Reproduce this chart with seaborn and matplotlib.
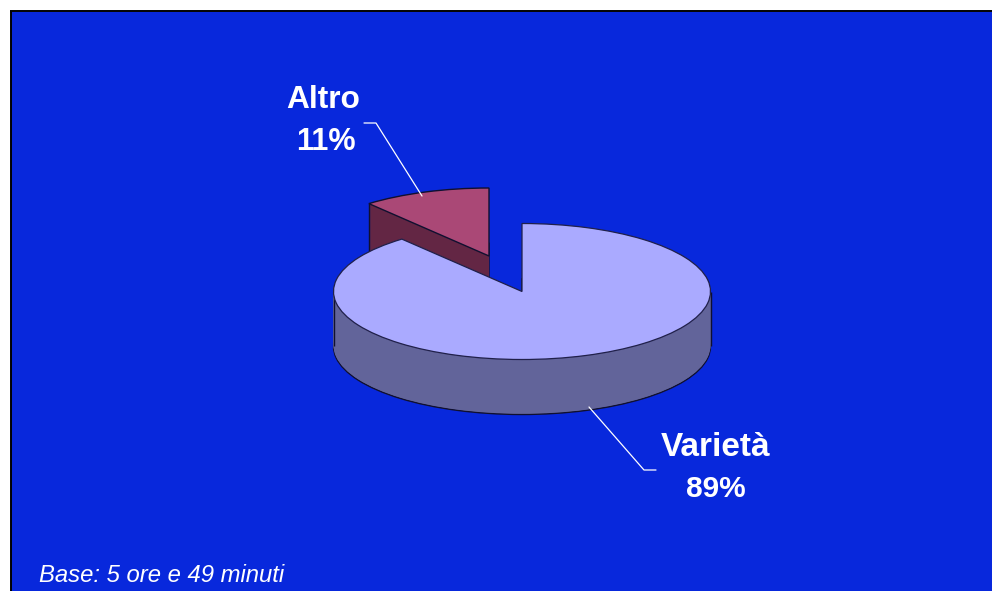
import matplotlib
matplotlib.use("Agg")
import matplotlib.pyplot as plt
from matplotlib.patches import Rectangle
import numpy as np
import seaborn as sns

categories = ["Varietà", "Altro"]
shares = [89, 11]
top_colors = ["#AAAAFF", "#AA4876"]
wall_colors = ["#62649A", "#632644"]
BLUE = "#0828DC"
note = "Base: 5 ore e 49 minuti"

sns.set_theme(style="white")
FONT = ["Liberation Sans", "DejaVu Sans"]

W, H = 992, 591
RX, RY, DEPTH = 188.5, 68.0, 55
K = RX / RY
fig = plt.figure(figsize=(W / 100, H / 100), dpi=100, facecolor="white")
ax = fig.add_axes([0, 0, 1, 1])


def Y(py):
    return (H - py) * K


def wedge(value, start, center, color, edge="none", lw=0.0, z=1.0):
    ax.pie([value, 100 - value], startangle=start, counterclock=False,
           center=center, radius=RX,
           colors=[color, (0, 0, 0, 0)],
           wedgeprops=dict(edgecolor=edge, linewidth=lw),
           frame=True)
    hidden = ax.patches[-1]
    hidden.set_visible(False)
    ax.patches[-2].set_zorder(z)


ax.add_patch(Rectangle((11, Y(H)), W, (H - 12) * K, facecolor=BLUE, edgecolor="none", zorder=0))
ax.plot([10.5, 10.5], [Y(H), Y(11.5)], color="black", lw=1.4, zorder=0.5, solid_capstyle="butt")
ax.plot([10, W], [Y(11.5), Y(11.5)], color="black", lw=1.4, zorder=0.5, solid_capstyle="butt")

var_val, alt_val = shares
alt_c = (489.0, 256.0)
var_c = (522.0, 291.5)
alt_start = 90 + 360 * alt_val / 100

z = 1.0
for d in range(DEPTH, -1, -1):
    z += 0.001
    is_top = d == 0
    wedge(alt_val, alt_start, (alt_c[0], Y(alt_c[1] + d)),
          top_colors[1] if is_top else wall_colors[1],
          edge="#101030" if d in (0, DEPTH) else "none", lw=1.0 if d in (0, DEPTH) else 0, z=z)
th = np.deg2rad(alt_start)
ax.plot([alt_c[0] + RX * np.cos(th)] * 2,
        [Y(alt_c[1]) + RX * np.sin(th), Y(alt_c[1] + DEPTH) + RX * np.sin(th)],
        color="#101030", lw=1.0, zorder=z + 0.001)
z += 0.01
for d in range(DEPTH, -1, -1):
    z += 0.001
    is_top = d == 0
    wedge(var_val, 90, (var_c[0], Y(var_c[1] + d)),
          top_colors[0] if is_top else wall_colors[0],
          edge="#101030" if d == DEPTH else "none", lw=1.0 if d == DEPTH else 0, z=z)
    if d == 1:
        for sx in (-RX, RX):
            ax.plot([var_c[0] + sx] * 2, [Y(var_c[1]), Y(var_c[1] + DEPTH - 1)],
                    color="#101030", lw=1.0, zorder=z + 0.0005, solid_capstyle="butt")
z += 0.001
wedge(var_val, 90, (var_c[0], Y(var_c[1])), (0, 0, 0, 0), edge="#20204A", lw=0.9, z=z)

z += 1
ax.plot([364, 376, 422], [Y(123), Y(123), Y(196)], color="white", lw=0.9, zorder=z)
ax.plot([589, 644, 656], [Y(407), Y(470), Y(470)], color="white", lw=0.9, zorder=z)

bold = dict(color="white", fontweight="bold", family=FONT,
            ha="center", va="center", zorder=z)
ax.text(323.5, Y(100), categories[1], fontsize=22.8, **bold)
ax.text(325.5, Y(142), f"{alt_val}%", fontsize=22, **bold)
ax.text(715.5, Y(447), categories[0], fontsize=24, **bold)
ax.text(716, Y(489), f"{var_val}%", fontsize=21.5, **bold)
ax.text(39, Y(575.5), note, color="white", fontsize=17.2, style="italic", family=FONT,
        ha="left", va="center", zorder=z)

ax.set_aspect("auto")
ax.set_xlim(0, W)
ax.set_ylim(0, H * K)
ax.set_xticks([])
ax.set_yticks([])
ax.set_frame_on(False)
fig.savefig("out.png", dpi=100, facecolor="white")
